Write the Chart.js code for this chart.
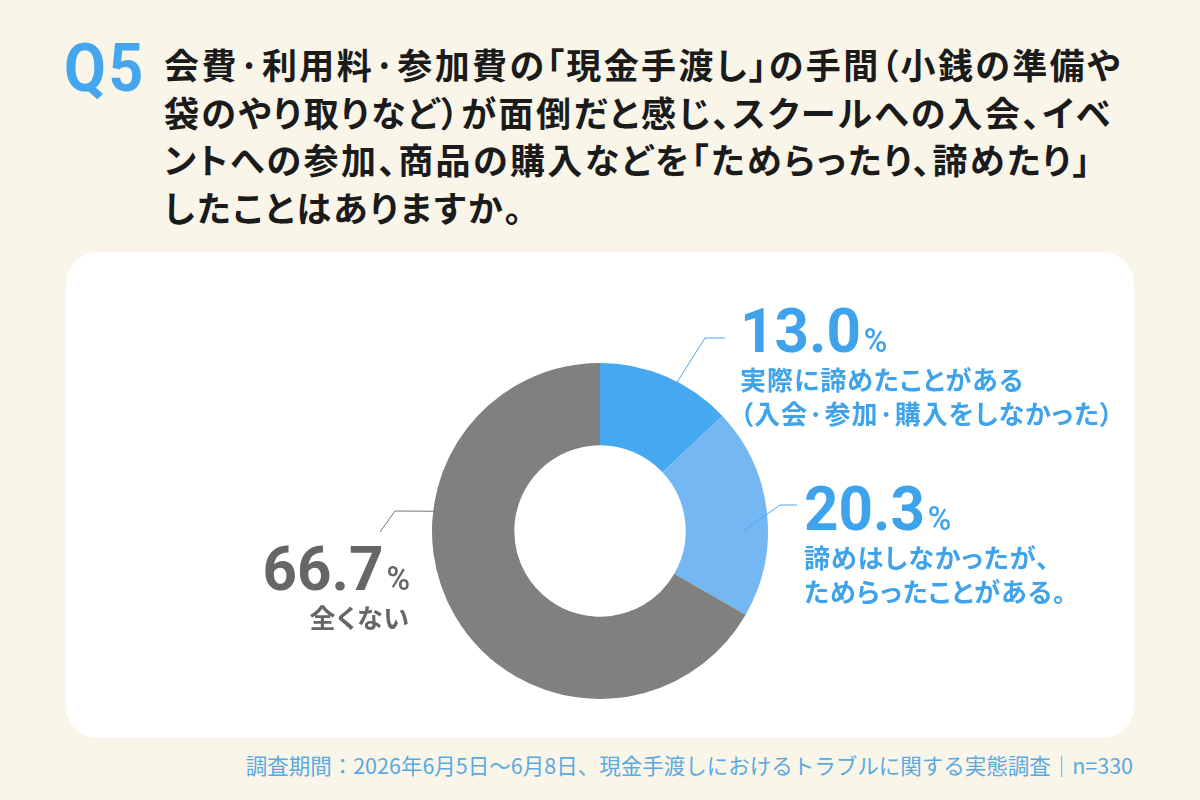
<!DOCTYPE html>
<html lang="ja">
<head>
<meta charset="utf-8">
<script src="https://cdn.jsdelivr.net/npm/chart.js@4/dist/chart.umd.min.js"></script>
<style>
  html, body { margin: 0; padding: 0; }
  body {
    width: 1200px; height: 800px; overflow: hidden; position: relative;
    background: #f9f5e9;
    font-family: "Noto Sans CJK JP", "Noto Sans", sans-serif;
  }
  .q {
    position: absolute; left: 64px; top: 36px;
    font-family: Roboto, sans-serif;
    font-weight: 700; font-size: 66px; line-height: 1; color: #44a6ee;
    transform: scaleX(0.92); transform-origin: left top; letter-spacing: 3px;
  }
  .title {
    position: absolute; left: 164px; top: 40px;
    font-size: 35px; font-weight: 700; line-height: 47.5px; color: #1b1b1b;
    letter-spacing: 2.4px; white-space: nowrap; font-feature-settings: "palt";
  }
  .card {
    position: absolute; left: 66px; top: 252px; width: 1068px; height: 486px;
    background: #fff; border-radius: 32px;
  }
  .card canvas { position: absolute; left: 0; top: 0; }
  .lbl { position: absolute; font-weight: 700; line-height: 1; white-space: nowrap; }
  .num {
    font-family: Roboto, sans-serif;
    font-size: 62px; letter-spacing: 0px; transform: scaleX(0.97);
  }
  .left .num { transform-origin: left top; }
  .right .num { transform-origin: right top; }
  .num small { font-size: 33px; margin-left: 3px; font-weight: 500; }
  .txt { font-size: 26px; line-height: 34px; letter-spacing: 1px; font-feature-settings: "palt"; }
  .blue { color: #3fa3ec; }
  .gray { color: #666666; }
  .foot {
    position: absolute; right: 67px; top: 749px;
    font-size: 21.5px; color: #5aaae2; white-space: nowrap;
  }
</style>
</head>
<body>
<div class="q">Q5</div>
<div class="title">会費·利用料·参加費の「現金手渡し」の手間（小銭の準備や<br>袋のやり取りなど）が面倒だと感じ、スクールへの入会、イベ<br>ントへの参加、商品の購入などを「ためらったり、諦めたり」<br>したことはありますか。</div>
<div class="card">
  <canvas id="donut" width="1068" height="486"></canvas>
</div>
<div id="labels"></div>
<div class="foot">調査期間：2026年6月5日～6月8日、現金手渡しにおけるトラブルに関する実態調査｜n=330</div>

<script>
const categories = ['実際に諦めたことがある<br>（入会·参加·購入をしなかった）', '諦めはしなかったが、<br>ためらったことがある。', '全くない'];
const values = [13.0, 20.3, 66.7];
const colors = ['#45a8f1', '#74b7f3', '#808080'];

// label boxes (page coords) and leader lines (card coords)
const labelPos = [
  { left: 740, top: 300, cls: 'blue left', align: 'left' },
  { left: 804, top: 478, cls: 'blue left', align: 'left' },
  { right: 790, top: 538, cls: 'gray right', align: 'right' }
];
const leaders = [
  { t: 0.56, r: 0.6, pts: [[639, 86], [659, 86]], color: '#4aa6ea' },
  { t: 0.585, r: 0.72, pts: [[714, 253], [731, 253]], color: '#4aa6ea' },
  { t: 0.654, r: 0.95, pts: [[329, 259], [314, 280]], color: '#777777' }
];

const box = document.getElementById('labels');
categories.forEach((c, i) => {
  const p = labelPos[i];
  const d = document.createElement('div');
  d.className = 'lbl ' + p.cls;
  d.style.top = p.top + 'px';
  if (p.left !== undefined) d.style.left = p.left + 'px';
  else d.style.right = p.right + 'px';
  d.style.textAlign = p.align;
  d.innerHTML = `<div class="num">${values[i].toFixed(1)}<small>%</small></div><div class="txt">${c}</div>`;
  box.appendChild(d);
});

const leaderPlugin = {
  id: 'leaders',
  afterDatasetsDraw(chart) {
    const ctx = chart.ctx;
    const arcs = chart.getDatasetMeta(0).data;
    arcs.forEach((arc, i) => {
      const L = leaders[i];
      const a = arc.startAngle + (arc.endAngle - arc.startAngle) * L.t;
      const r = arc.innerRadius + (arc.outerRadius - arc.innerRadius) * L.r;
      ctx.save();
      ctx.strokeStyle = L.color;
      ctx.lineWidth = 1;
      ctx.beginPath();
      ctx.moveTo(arc.x + Math.cos(a) * r, arc.y + Math.sin(a) * r);
      L.pts.forEach(p => ctx.lineTo(p[0], p[1]));
      ctx.stroke();
      ctx.restore();
    });
  }
};

new Chart(document.getElementById('donut'), {
  type: 'doughnut',
  data: {
    labels: categories,
    datasets: [{
      data: values,
      backgroundColor: colors,
      borderWidth: 0
    }]
  },
  options: {
    responsive: false,
    animation: false,
    cutout: '51%',
    layout: { padding: { top: 111, bottom: 39, left: 366, right: 366 } },
    plugins: {
      legend: { display: false },
      tooltip: { enabled: false }
    }
  },
  plugins: [leaderPlugin]
});
</script>
</body>
</html>
